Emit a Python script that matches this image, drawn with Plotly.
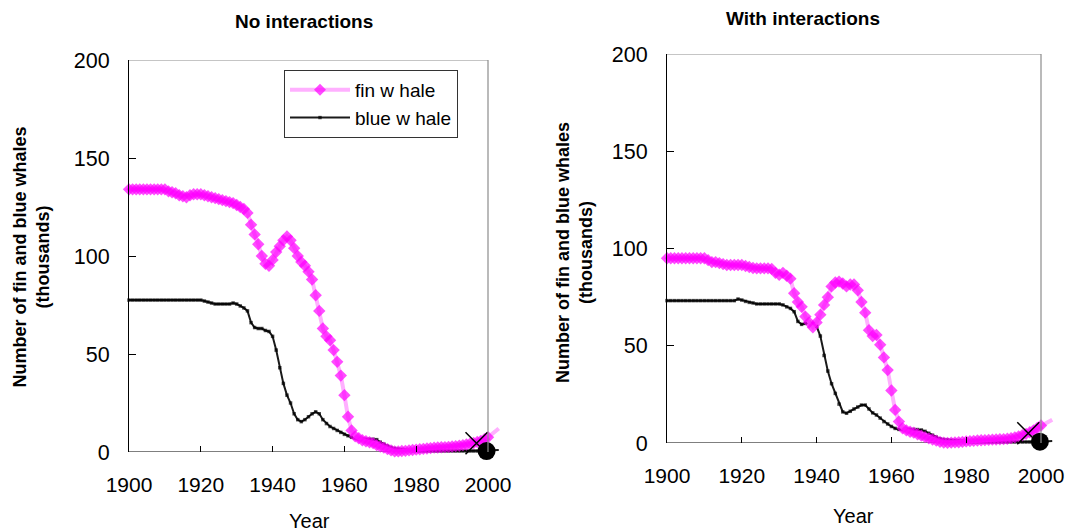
import plotly.graph_objects as go

years = list(range(1900, 2004))

fin_no = ([134] * 11 +
          [133, 132.5, 132, 131, 130.5, 130, 131, 131.5, 131.5, 131.5,
           131, 130.5, 130, 129.5, 129, 128.5, 128, 127.5, 127, 126,
           125, 124, 122, 116, 111, 106, 100, 96, 95, 98,
           102, 105, 108, 110, 108, 104, 100, 97, 95, 92,
           88, 80, 72, 63, 59, 57, 52, 46, 39, 29,
           18, 11, 8, 7, 6, 5.5, 5, 4.5, 3.5, 2.8,
           2.2, 1.5, 0.8, 0.3, 0.3, 0.5, 0.6, 0.8, 1, 1.2,
           1.4, 1.6, 1.8, 2, 2.2, 2.3, 2.4, 2.5, 2.6, 2.8,
           3, 3.2, 3.5, 3.8, 4.2, 4.6, 5.1, 5.7, 6.5, 7.5,
           8.8, 10.3, 12])

blue_no = ([77.5] * 21 +
           [77, 76.5, 76, 75.5, 75.5, 75.5, 75.5, 75.5, 76, 75.5,
            74.5, 73.5, 72, 66, 63.5, 63, 63, 62, 61.5, 59,
            52, 43, 35, 29, 25, 19.5, 16.5, 15.5, 16.5, 18,
            19.5, 20.5, 19.5, 16.5, 14.5, 13, 12, 11, 10, 9,
            8.3, 7.5, 7, 6.7, 6.5, 6.5, 6.5, 6.5, 6.3, 5,
            4, 3, 2.3, 1.8, 1.5, 1.3, 1.1, 0.9, 0.7, 0.6] +
           [0.5] * 17 +
           [0.6, 0.7, 0.8, 0.9, 1, 1])

fin_with = ([95] * 11 +
            [94, 93, 93, 92.5, 92, 91.5, 91.5, 91.5, 91.5, 91.5,
             91, 90.5, 90, 89.8, 89.8, 89.8, 89.8, 89.5, 87.5, 86.5,
             87.5, 86, 84.5, 77, 72.5, 70, 65, 62, 59.5, 62,
             66, 71, 75, 80.5, 82.5, 83, 82, 80.5, 81.5, 81.5,
             78.5, 72.5, 67, 58, 55, 55.5, 50.5, 44, 37.5, 27,
             17, 11, 7.6, 6.5, 5.8, 5.3, 4.5, 3.8, 3, 2.4,
             1.8, 1.2, 0.6, 0.2, 0.1, 0.2, 0.3, 0.4, 0.6, 0.8,
             1, 1.1, 1.3, 1.4, 1.5, 1.6, 1.7, 1.8, 1.9, 2,
             2.2, 2.5, 2.9, 3.4, 4, 4.7, 5.5, 6.5, 7.7, 9,
             10, 11, 12])

blue_with = ([73.2] * 19 +
             [74, 73.5, 72.8, 72.3, 72, 71.5, 71.5, 71.5, 71.5, 71.5,
              71.5, 71.5, 71, 70, 69.2, 67.5, 62.5, 61, 61.5, 62,
              61, 60, 55, 45, 37, 30.5, 25.5, 20, 16, 15.3,
              16.3, 17.5, 18.5, 19.5, 19.5, 17.5, 15.5, 14.4, 12.8, 11,
              9.8, 8.5, 7.5, 7, 7, 7, 7, 7, 6.9, 6.7,
              6, 5, 4, 3, 2.2, 1.8, 1.6, 1.4, 1.3, 1.2,
              1, 0.8, 0.6] +
             [0.5] * 16 +
             [0.6, 0.7, 0.7, 0.8, 0.9, 1])

# observed estimates (cross and dot)
cross_year = [1996.8, 1996.6]
cross_val = [4.5, 5.0]
dot_year = [1999.6, 1999.7]
dot_val = [0.5, 0.7]

x_ticks = [1900, 1920, 1940, 1960, 1980, 2000]
y_ticks = [0, 50, 100, 150, 200]
panel_titles = ["No interactions", "With interactions"]

FONT = "Liberation Sans, Arial, sans-serif"
PINK_LINE = "#FFB0FF"
PINK_MARK = "#FF00FF"
W, H = 1072, 531

fig = go.Figure()

panels = [
    dict(xa="x", ya="y", fin=fin_no, blue=blue_no, legend=True),
    dict(xa="x2", ya="y2", fin=fin_with, blue=blue_with, legend=False),
]

fin_sizes = [9.5 if y <= 2000 else 0 for y in years]
blue_sizes = [3.5 if y <= 2000 else 0 for y in years]

for i, p in enumerate(panels):
    fig.add_trace(go.Scatter(
        x=years, y=p["blue"], xaxis=p["xa"], yaxis=p["ya"],
        mode="lines+markers", name="blue w hale",
        line=dict(color="#1a1a1a", width=2),
        marker=dict(symbol="square", size=blue_sizes, color="#000000", line=dict(width=0)),
        showlegend=p["legend"], legendrank=2, cliponaxis=False))
    fig.add_trace(go.Scatter(
        x=years, y=p["fin"], xaxis=p["xa"], yaxis=p["ya"],
        mode="lines+markers", name="fin w hale",
        line=dict(color=PINK_LINE, width=4),
        marker=dict(symbol="diamond", size=fin_sizes, color=PINK_MARK, line=dict(width=0)),
        showlegend=p["legend"], legendrank=1, cliponaxis=False))
    fig.add_trace(go.Scatter(
        x=[cross_year[i]], y=[cross_val[i]], xaxis=p["xa"], yaxis=p["ya"],
        mode="markers", showlegend=False,
        marker=dict(symbol="x-thin", size=22, line=dict(color="black", width=1.5)),
        cliponaxis=False))
    fig.add_trace(go.Scatter(
        x=[dot_year[i]], y=[dot_val[i]], xaxis=p["xa"], yaxis=p["ya"],
        mode="markers", showlegend=False,
        marker=dict(symbol="circle", size=18, color="black"),
        cliponaxis=False))

# frames: top/right grey, bottom black (to 2000)
for xa, ya in [("x", "y"), ("x2", "y2")]:
    fig.add_shape(type="line", xref=xa, yref=ya, x0=1900, x1=2000, y0=200, y1=200,
                  line=dict(color="#8c8c8c", width=1.2))
    fig.add_shape(type="line", xref=xa, yref=ya, x0=2000, x1=2000, y0=0, y1=200,
                  line=dict(color="#8c8c8c", width=1.2))
    fig.add_shape(type="line", xref=xa, yref=ya, x0=1900, x1=2000, y0=0, y1=0,
                  line=dict(color="black", width=1.2), layer="below")

# domains (pixel-based)
x_rng = [1900, 2004.5]
ldom = [129 / W, (129 + 104.5 * 3.59) / W]
rdom = [667 / W, (667 + 104.5 * 3.74) / W]
lydom = [1 - 452 / H, 1 - 60 / H]
rydom = [1 - 443 / H, 1 - 54 / H]

xcommon = dict(range=x_rng, tickvals=x_ticks, showline=False, showgrid=False,
               zeroline=False, ticks="inside", ticklen=6, tickcolor="black",
               tickfont=dict(family=FONT, size=21, color="black"),
               ticklabelstandoff=18, automargin=False)
ycommon = dict(range=[0, 200], tickvals=y_ticks, showline=True, linecolor="black",
               linewidth=1.2, showgrid=False, zeroline=False, ticks="inside",
               ticklen=7, tickcolor="black",
               tickfont=dict(family=FONT, size=21.5, color="black"),
               ticklabelstandoff=14, automargin=False)

fig.update_layout(
    width=W, height=H, autosize=False,
    margin=dict(l=0, r=0, t=0, b=0, pad=0),
    paper_bgcolor="white", plot_bgcolor="white",
    xaxis=dict(domain=ldom, anchor="y", **xcommon),
    yaxis=dict(domain=lydom, anchor="x", **ycommon),
    xaxis2=dict(domain=rdom, anchor="y2", **xcommon),
    yaxis2=dict(domain=rydom, anchor="x2", **ycommon),
    legend=dict(x=284 / W, y=1 - 70 / H, xanchor="left", yanchor="top",
                bgcolor="white", bordercolor="#333333", borderwidth=1,
                font=dict(family=FONT, size=19, color="black"),
                tracegroupgap=0, itemwidth=60),
    showlegend=True,
)

ann = []
ann.append(dict(text="<b>" + panel_titles[0] + "</b>", x=304 / W, y=1 - 22 / H))
ann.append(dict(text="<b>" + panel_titles[1] + "</b>", x=803 / W, y=1 - 18 / H))
for a in ann:
    a.update(font=dict(family=FONT, size=19, color="black"))
ytitle = "<b>Number of fin and blue whales<br>(thousands)</b>"
ann.append(dict(text=ytitle, x=31.5 / W, y=1 - 257 / H, textangle=-90,
                font=dict(family=FONT, size=18, color="black")))
ann.append(dict(text=ytitle, x=574 / W, y=1 - 253 / H, textangle=-90,
                font=dict(family=FONT, size=18, color="black")))
for a in ann:
    a.update(xref="paper", yref="paper", showarrow=False, xanchor="center",
             yanchor="middle")
ann.append(dict(text="Year", x=309 / W, y=1 - 521 / H, xref="paper", yref="paper",
                xanchor="center", yanchor="middle",
                showarrow=False, font=dict(family=FONT, size=20, color="black")))
ann.append(dict(text="Year", x=853 / W, y=1 - 516 / H, xref="paper", yref="paper",
                xanchor="center", yanchor="middle",
                showarrow=False, font=dict(family=FONT, size=20, color="black")))
fig.update_layout(annotations=ann)

fig.write_html("out.html")
